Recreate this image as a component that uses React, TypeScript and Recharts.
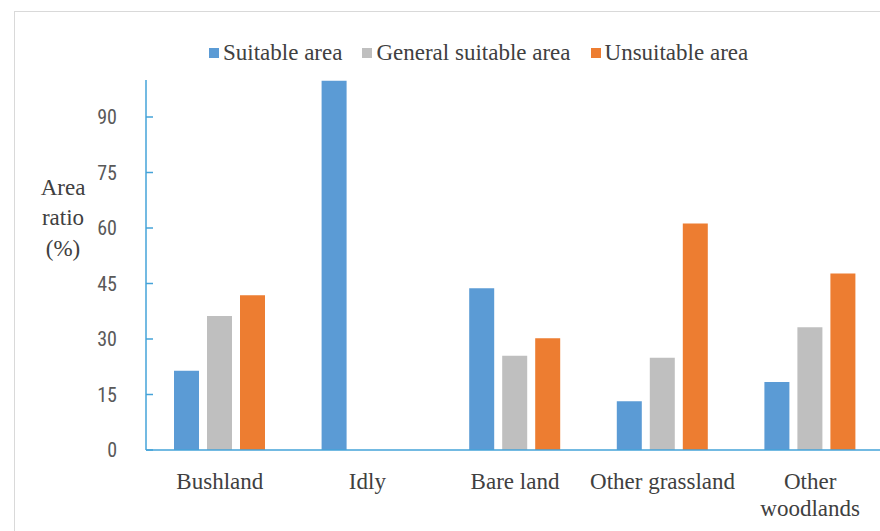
import { BarChart, Bar, XAxis, YAxis, Label } from 'recharts'

const categories = ['Bushland', 'Idly', 'Bare land', 'Other grassland', 'Other\nwoodlands']
const suitable = [21.4, 99.8, 43.7, 13.2, 18.4]
const generalSuitable = [36.2, 0, 25.5, 24.9, 33.2]
const unsuitable = [41.8, 0, 30.2, 61.2, 47.7]
const yTicks = [0, 15, 30, 45, 60, 75, 90]

const seriesNames = ['Suitable area', 'General suitable area', 'Unsuitable area']
const seriesColors = ['#5B9BD5', '#BFBFBF', '#ED7D31']

const data = categories.map((name, i) => ({
  name,
  suitable: suitable[i],
  general: generalSuitable[i],
  unsuitable: unsuitable[i],
}))

const AXIS = '#45A3D8'
const TEXT = '#404040'
const SERIF = '"Liberation Serif", "Times New Roman", serif'
const AXIS_X = 146

function YTick({ y, payload }: any) {
  return (
    <g>
      <line x1={AXIS_X} x2={AXIS_X + 7} y1={y} y2={y} stroke={AXIS} strokeWidth={1.5} />
      <text
        x={117}
        y={y}
        textAnchor="end"
        dominantBaseline="central"
        fontFamily='"Liberation Sans Narrow", "Roboto Condensed", "Open Sans", sans-serif'
        fontSize={20}
        fill="#595959"
      >
        {payload.value}
      </text>
    </g>
  )
}

function XTick({ x, payload }: any) {
  const lines = String(payload.value).split('\n')
  return (
    <text x={x} y={489} textAnchor="middle" fontFamily={SERIF} fontSize={23} fill={TEXT}>
      {lines.map((l, i) => (
        <tspan key={i} x={x} dy={i === 0 ? 0 : 27}>
          {l}
        </tspan>
      ))}
    </text>
  )
}

function YLabel() {
  return (
    <text x={63} textAnchor="middle" fontFamily={SERIF} fontSize={23} fill={TEXT}>
      <tspan x={63} y={195}>Area</tspan>
      <tspan x={63} y={225}>ratio</tspan>
      <tspan x={63} y={256}>(%)</tspan>
    </text>
  )
}

export default function App() {
  return (
    <div style={{ position: 'absolute', left: 0, top: 0, width: 880, height: 531, overflow: 'hidden', background: '#fff' }}>
      <div
        style={{
          position: 'absolute',
          left: 14,
          top: 11,
          width: 900,
          height: 600,
          border: '1px solid #D9D9D9',
        }}
      />
      <div
        style={{
          position: 'absolute',
          left: 209,
          top: 39,
          height: 28,
          display: 'flex',
          alignItems: 'center',
          fontFamily: SERIF,
          fontSize: 23,
          color: TEXT,
        }}
      >
        {seriesNames.map((n, i) => (
          <div key={n} style={{ display: 'flex', alignItems: 'center', marginRight: 20 }}>
            <span style={{ width: 10, height: 10, background: seriesColors[i], marginRight: 4, display: 'inline-block' }} />
            <span>{n}</span>
          </div>
        ))}
      </div>
      <BarChart
        width={884}
        height={531}
        data={data}
        margin={{ top: 80, right: 0, left: 86, bottom: 21 }}
        barSize={25}
        barGap={8}
        style={{ position: 'absolute', left: 0, top: 0 }}
      >
        <XAxis
          dataKey="name"
          height={60}
          interval={0}
          tickLine={false}
          axisLine={{ stroke: AXIS, strokeWidth: 1.5 }}
          tick={<XTick />}
        />
        <YAxis
          width={60}
          domain={[0, 100]}
          ticks={yTicks}
          tickLine={false}
          axisLine={{ stroke: AXIS, strokeWidth: 1.5 }}
          tick={<YTick />}
        >
          <Label content={<YLabel />} />
        </YAxis>
        <Bar dataKey="suitable" fill={seriesColors[0]} isAnimationActive={false} />
        <Bar dataKey="general" fill={seriesColors[1]} isAnimationActive={false} />
        <Bar dataKey="unsuitable" fill={seriesColors[2]} isAnimationActive={false} />
      </BarChart>
    </div>
  )
}
